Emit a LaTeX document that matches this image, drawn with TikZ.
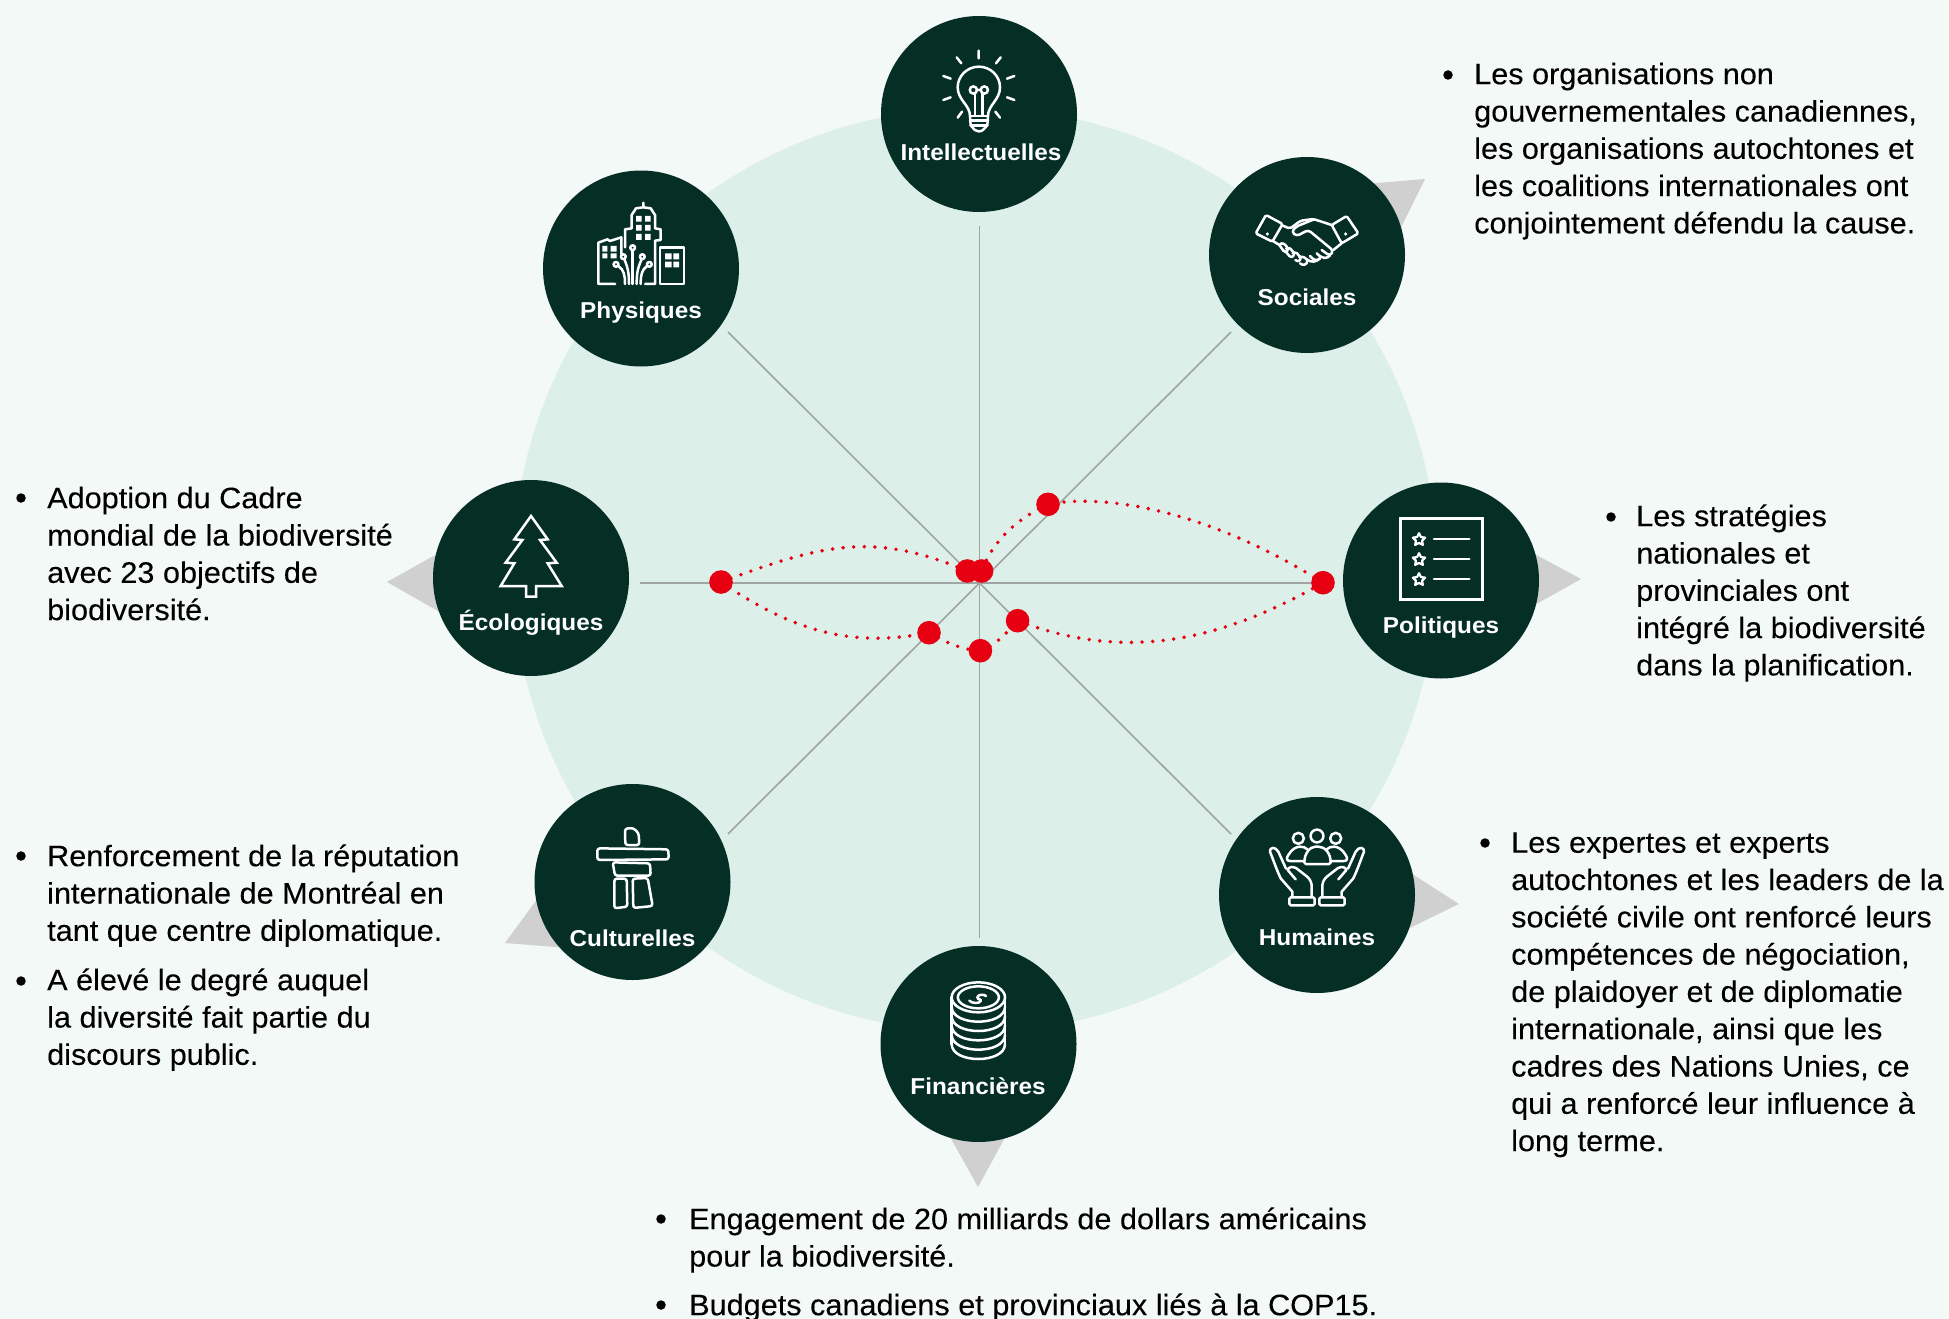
\documentclass[tikz,border=0pt]{standalone}
\usepackage{fontspec}
\setmainfont[FakeStretch=1.035,FakeBold=0.15]{Liberation Sans}
\newfontfamily\lablf[FakeStretch=1.057]{Liberation Sans}
\usetikzlibrary{shapes.geometric}
\definecolor{bgc}{HTML}{F3F9F7}
\definecolor{bigc}{HTML}{DCEFE8}
\definecolor{darkc}{HTML}{052F25}
\definecolor{greyt}{HTML}{D0D0D0}
\definecolor{spokec}{HTML}{A0A5A3}
\definecolor{redc}{HTML}{E60012}
\newcommand\bl{\rule{0pt}{26pt}}
\tikzset{
  resource/.style={circle,fill=darkc,minimum size=196pt,inner sep=0pt},
  lab/.style={anchor=base,text=white,inner sep=0pt,font=\lablf\fontsize{23}{26}\selectfont\bfseries},
  pointer/.style={fill=greyt},
  spoke/.style={draw=spokec,line width=1.6pt},
  reddot/.style={circle,fill=redc,minimum size=23.6pt,inner sep=0pt},
  dots/.style={draw=redc,line width=3.9pt,line cap=round,dash pattern=on 0pt off 10.6pt},
  bodytext/.style={anchor=north west,inner sep=0pt,align=left,text=black,font=\fontsize{29.6}{37.3}\selectfont},
  bulletmark/.style={circle,fill=black,minimum size=9.5pt,inner sep=0pt},
  ico/.style={draw=white,line width=2.5pt,line join=round,line cap=round},
  icostar/.style={star,star points=5,star point ratio=2,draw=white,line width=2.2pt,minimum size=13pt,inner sep=0pt},
}
\begin{document}
\begin{tikzpicture}[x=1pt,y=-1pt]
\useasboundingbox (0,0) rectangle (1949,1319);
\fill[bgc] (0,0) rectangle (1949,1319);
\coordinate (hub) at (975,570);
\fill[bigc] (hub) circle[radius=462pt];

% pointers
\fill[pointer] (1425,179) -- (1330,187) -- (1370,290) -- cycle;
\fill[pointer] (1581,579) -- (1490,530) -- (1490,630) -- cycle;
\fill[pointer] (1459,904) -- (1370,847) -- (1360,952) -- cycle;
\fill[pointer] (978,1187) -- (935,1110) -- (1020,1110) -- cycle;
\fill[pointer] (505,943) -- (565,861) -- (620,952) -- cycle;
\fill[pointer] (387,582) -- (480,530) -- (480,635) -- cycle;

% spokes
\coordinate (c) at (979.5,583);
\coordinate (sN) at (979.5,226);
\coordinate (sS) at (979.5,938);
\coordinate (sW) at (640,583);
\coordinate (sE) at (1319,583);
\coordinate (sNW) at (728,332);
\coordinate (sNE) at (1231,332);
\coordinate (sSW) at (728,834);
\coordinate (sSE) at (1231,834);
\draw[spoke] (sN) -- (sS);
\draw[spoke] (sW) -- (sE);
\draw[spoke] (sNW) -- (sSE);
\draw[spoke] (sNE) -- (sSW);

% red dots and curves
\coordinate (pL) at (721,582);
\coordinate (pCL) at (967.3,571);
\coordinate (pCR) at (981.6,571);
\coordinate (pT) at (1048,504.3);
\coordinate (pR) at (1323,582.7);
\coordinate (pBR) at (1017.6,620.7);
\coordinate (pB) at (980.4,650.7);
\coordinate (pBL) at (929,632.7);
\draw[dots] (pL) .. controls (825,543) and (875,532) .. (pCL);
\draw[dots] (pL) .. controls (805,640) and (865,645) .. (pBL);
\draw[dots] (pBL) .. controls (942,640) and (960,650) .. (pB);
\draw[dots] (pB) .. controls (992,648) and (1005,635) .. (pBR);
\draw[dots] (pBR) .. controls (1120,660) and (1215,645) .. (pR);
\draw[dots] (pR) .. controls (1203,507) and (1100,494) .. (pT);
\draw[dots] (pT) .. controls (1025,515) and (995,535) .. (pCR);
\node[reddot] (nL) at (pL) {};
\node[reddot] (nCL) at (pCL) {};
\node[reddot] (nCR) at (pCR) {};
\node[reddot] (nT) at (pT) {};
\node[reddot] (nR) at (pR) {};
\node[reddot] (nBR) at (pBR) {};
\node[reddot] (nB) at (pB) {};
\node[reddot] (nBL) at (pBL) {};

% resource circles
\node[resource] (cInt) at (979,114) {};
\node[resource] (cPhy) at (641,268.5) {};
\node[resource] (cSoc) at (1307,255) {};
\node[resource] (cPol) at (1441,580.5) {};
\node[resource] (cHum) at (1317,895) {};
\node[resource] (cFin) at (978.5,1044) {};
\node[resource] (cCul) at (632.5,882) {};
\node[resource] (cEco) at (531,578) {};

% labels
\node[lab] (lInt) at (981,160.5) {Intellectuelles};
\node[lab] (lPhy) at (641,318.5) {Physiques};
\node[lab] (lSoc) at (1307,305.5) {Sociales};
\node[lab] (lPol) at (1441,633.5) {Politiques};
\node[lab] (lHum) at (1317,945.5) {Humaines};
\node[lab] (lFin) at (978,1094.5) {Financières};
\node[lab] (lCul) at (632.5,946) {Culturelles};
\node[lab] (lEco) at (531,630.5) {Écologiques};

% bulb
\begin{scope}[shift={(860,0)},x=0.33333pt,y=-0.33333pt,ico]
\draw (356,152)--(356,175) (290,172)--(304,190) (422,172)--(408,190);
\draw (250,228)--(272,236) (463,228)--(441,236) (250,300)--(272,292) (463,300)--(441,292);
\draw (293,353)--(306,335) (420,353)--(406,335);
\draw (330,348) .. controls (330,315) and (293,300) .. (293,262) .. controls (293,228) and (322,200) .. (356,200) .. controls (392,200) and (420,228) .. (420,262) .. controls (420,300) and (384,315) .. (384,348);
\draw (330,348)--(384,348) (330,362)--(384,362) (332,376)--(382,376);
\draw (330,348)--(332,376) .. controls (345,390) and (345,394) .. (356,394) .. controls (368,394) and (368,390) .. (382,376)--(384,348);
\draw (340,270) circle[radius=3.6pt] (373,270) circle[radius=3.6pt] (351,270)--(362,270);
\draw (345,281)--(345,346) (368,281)--(368,346);
\end{scope}

% buildings
\begin{scope}[shift={(530,160)},x=0.33333pt,y=-0.33333pt,ico]
\draw (255,372)--(205,372)--(205,248)--(232,238)--(240,243)--(274,232)--(274,282);
\draw (285,262)--(285,208)--(305,205)--(305,165)--(318,145)--(340,142)--(340,128) (340,142)--(362,145)--(375,165)--(375,205)--(392,208)--(392,240)--(375,242)--(375,372)--(345,372);
\draw (390,262) rectangle (462,372);
\fill[white] (318,168) rectangle (335,185) (345,168) rectangle (362,185) (318,195) rectangle (335,212) (345,195) rectangle (362,212) (318,222) rectangle (335,240) (345,222) rectangle (362,240);
\fill[white] (217,258) rectangle (232,275) (242,258) rectangle (260,275) (217,280) rectangle (232,295) (242,280) rectangle (260,295);
\fill[white] (405,280) rectangle (425,298) (430,280) rectangle (447,298) (405,305) rectangle (425,322) (430,305) rectangle (447,322);
\draw (258,313) circle[radius=2.4pt] (280,290) circle[radius=2.4pt] (308,263) circle[radius=2.4pt] (337,290) circle[radius=2.4pt] (358,313) circle[radius=2.4pt];
\draw (265,318) .. controls (282,330) and (285,345) .. (285,372);
\draw (283,298) .. controls (295,325) and (297,345) .. (297,372);
\draw (308,271)--(308,372);
\draw (335,298) .. controls (322,325) and (320,345) .. (320,372);
\draw (351,318) .. controls (335,330) and (332,345) .. (332,372);
\end{scope}

% handshake
\begin{scope}[shift={(1190,150)},x=0.33333pt,y=-0.33333pt,ico]
\draw[rounded corners=1.5pt] (228,195)--(278,222)--(247,275)--(197,250)--cycle;
\draw[rounded corners=1.5pt] (470,198)--(505,250)--(455,280)--(425,225)--cycle;
\fill[white] (232,252) circle[radius=1.8pt] (467,252) circle[radius=1.8pt];
\draw[rounded corners=2pt] (276,226)--(300,236)--(332,212)--(370,207)--(425,225);
\draw[rounded corners=3pt] (372,208)--(318,230)--(305,246)--(320,258)--(355,240)--(430,302)--(420,318)--(395,300);
\draw (455,280)--(430,300);
\draw (420,316) .. controls (412,325) and (400,330) .. (380,310);
\draw (390,325) .. controls (380,335) and (370,330) .. (360,318);
\draw (247,272)--(268,285);
\draw (268,285) .. controls (275,275) and (285,282) .. (290,290) .. controls (298,298) and (290,312) .. (280,302)--(268,285);
\draw (288,296) .. controls (296,290) and (306,298) .. (310,306) .. controls (316,316) and (306,326) .. (298,318)--(288,306);
\draw (308,310) .. controls (316,304) and (326,312) .. (330,320) .. controls (336,330) and (324,338) .. (316,330);
\draw (328,322) .. controls (338,316) and (350,326) .. (352,332) .. controls (352,345) and (338,348) .. (330,340);
\draw (350,328) .. controls (365,340) and (380,335) .. (390,325);
\end{scope}

% list
\begin{scope}[shift={(1330,480)},x=0.33333pt,y=-0.33333pt,ico]
\draw[line cap=butt,line join=miter] (212,116) rectangle (457,359);
\draw (312,177)--(418,177) (312,237)--(418,237) (312,297)--(418,297);
\node[icostar] (st1) at (267,179) {};
\node[icostar] (st2) at (267,239) {};
\node[icostar] (st3) at (267,299) {};
\end{scope}

% people in hands
\begin{scope}[shift={(1210,790)},x=0.33333pt,y=-0.33333pt,ico]
\draw (265,145) circle[radius=5.5pt] (321,138) circle[radius=6.4pt] (377,145) circle[radius=5.5pt];
\draw[rounded corners=1.5pt] (283,222) .. controls (283,190) and (300,170) .. (321,170) .. controls (345,170) and (362,190) .. (362,222) -- cycle;
\draw (282,213)--(240,213) .. controls (230,213) and (228,205) .. (235,195) .. controls (245,178) and (258,170) .. (270,170) .. controls (280,170) and (285,172) .. (292,178);
\draw (362,213)--(402,213) .. controls (412,213) and (414,205) .. (407,195) .. controls (397,178) and (384,170) .. (372,170) .. controls (362,170) and (357,172) .. (350,178);
\end{scope}
\foreach \sc/\sx in {0.33333/1210,-0.33333/1424}{
\begin{scope}[shift={(\sx,790)},x=\sc pt,y=-0.33333pt,ico]
\draw[rounded corners=1.5pt] (238,322) rectangle (314,346);
\draw (305,322)--(305,285) .. controls (303,270) and (295,262) .. (285,255)--(258,234) .. controls (245,228) and (235,232) .. (233,240)--(257,268);
\draw (247,322)--(247,305)--(212,265) .. controls (200,240) and (190,210) .. (180,185) .. controls (178,172) and (195,168) .. (205,185)--(228,236);
\end{scope}}

% coins
\begin{scope}[shift={(870,940)},x=0.33333pt,y=-0.33333pt,ico]
\draw (325,172) ellipse[x radius=26.7pt,y radius=15pt];
\draw (325,172) ellipse[x radius=20.5pt,y radius=11pt];
\draw (245,172)--(245,312) (405,172)--(405,312);
\foreach \d in {28,56,84,112,140}{
  \draw (245,172+\d) .. controls (245,232+\d) and (405,232+\d) .. (405,172+\d);
}
\draw (348,168) .. controls (340,160) and (322,165) .. (322,172) .. controls (322,180) and (335,175) .. (332,183) .. controls (328,192) and (305,190) .. (298,182);
\end{scope}

% inukshuk
\begin{scope}[shift={(500,780)},x=0.33333pt,y=-0.33333pt,ico,rounded corners=2.5pt]
\draw (375,146)--(400,144)--(416,160)--(418,195)--(376,195)--cycle;
\draw (292,205)--(505,208)--(506,238)--(292,240)--cycle;
\draw (338,247)--(450,250)--(452,287)--(345,287)--cycle;
\draw (343,296)--(380,296)--(382,380)--(343,385)--cycle;
\draw (398,296)--(443,294)--(458,378)--(400,384)--cycle;
\end{scope}

% tree
\begin{scope}[shift={(380,480)},x=0.33333pt,y=-0.33333pt,ico]
\draw[line cap=butt,line join=miter] (453,108)--(503,178)--(480,180)--(530,248)--(503,250)--(545,318)--(468,318)--(468,350)--(438,350)--(438,318)--(362,318)--(403,250)--(377,248)--(427,180)--(403,178)--cycle;
\end{scope}

% text
\node[bulletmark] (b1) at (1448,75) {};
\node[bodytext] (t1) at (1474,58) {\bl Les organisations non\\gouvernementales canadiennes,\\les organisations autochtones et\\les coalitions internationales ont\\conjointement défendu la cause.};
\node[bulletmark] (b2) at (1611,517) {};
\node[bodytext] (t2) at (1636,500) {\bl Les stratégies\\nationales et\\provinciales ont\\intégré la biodiversité\\dans la planification.};
\node[bulletmark] (b3) at (1485,843) {};
\node[bodytext] (t3) at (1511,826.5) {\bl Les expertes et experts\\autochtones et les leaders de la\\société civile ont renforcé leurs\\compétences de négociation,\\de plaidoyer et de diplomatie\\internationale, ainsi que les\\cadres des Nations Unies, ce\\qui a renforcé leur influence à\\long terme.};
\node[bulletmark] (b4) at (661,1219) {};
\node[bodytext] (t4) at (689,1203) {\bl Engagement de 20 milliards de dollars américains\\pour la biodiversité.};
\node[bulletmark] (b5) at (661,1305) {};
\node[bodytext] (t5) at (689,1289) {\bl Budgets canadiens et provinciaux liés à la COP15.};
\node[bulletmark] (b6) at (21,856) {};
\node[bodytext] (t6) at (47,840) {\bl Renforcement de la réputation\\internationale de Montréal en\\tant que centre diplomatique.};
\node[bulletmark] (b7) at (21,981) {};
\node[bodytext] (t7) at (47,964) {\bl A élevé le degré auquel\\la diversité fait partie du\\discours public.};
\node[bulletmark] (b8) at (21,498) {};
\node[bodytext] (t8) at (47,482) {\bl Adoption du Cadre\\mondial de la biodiversité\\avec 23 objectifs de\\biodiversité.};
\end{tikzpicture}
\end{document}
